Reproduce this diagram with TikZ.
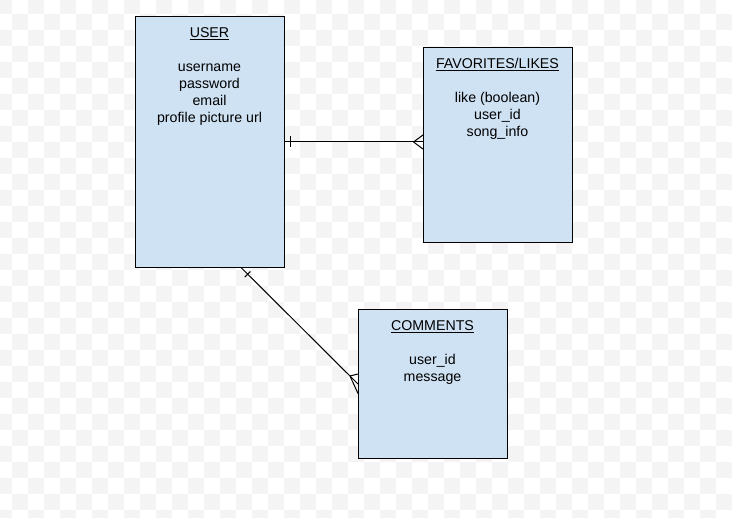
\documentclass[tikz,border=0pt]{standalone}
\usepackage{fontspec}
\setmainfont{Liberation Sans}
\definecolor{boxfill}{HTML}{CFE2F3}
\definecolor{chk}{HTML}{F4F4F4}
\tikzset{
  entity/.style={draw=black, line width=1pt, fill=boxfill, rectangle, inner sep=0pt, minimum width=149pt, anchor=north west},
  txt/.style={inner sep=0pt, anchor=base, font=\fontsize{14.2}{17}\selectfont},
  conn/.style={line width=1pt, draw=black},
  uline/.style={line width=0.9pt, draw=black},
}
\begin{document}
\begin{tikzpicture}[x=1pt,y=-1pt]
\useasboundingbox (0,0) rectangle (732,518);
\begin{scope}
\clip (0,0) rectangle (732,518);
\fill[white] (0,0) rectangle (732,518);
\foreach \r in {0,...,32}{
  \pgfmathtruncatemacro\s{mod(\r,2)}
  \foreach \c in {0,2,...,46}{
    \fill[chk] ({16*(\c+\s)-4},{16*\r-2}) rectangle ++(16,16);
  }
}
\end{scope}

% entities
\node[entity, minimum height=251pt] (user) at (135,16) {};
\node[entity, minimum height=195pt] (fav) at (423,47) {};
\node[entity, minimum height=149pt] (com) at (358,309) {};

% USER texts
\node[txt] (ut) at (209.5,37.5) {USER};
\draw[uline] ([yshift=-1.7pt]ut.base west) -- ([yshift=-1.7pt]ut.base east);
\node[txt] (u1) at (209.5,71.4) {username};
\node[txt] (u2) at (209.5,88.4) {password};
\node[txt] (u3) at (209.5,105.4) {email};
\node[txt] (u4) at (209.5,122.4) {profile picture url};

% FAVORITES texts
\node[txt] (ft) at (497.5,68.5) {FAVORITES/LIKES};
\draw[uline] ([yshift=-1.7pt]ft.base west) -- ([yshift=-1.7pt]ft.base east);
\node[txt] (f1) at (497.5,102.4) {like (boolean)};
\node[txt] (f2) at (497.5,119.4) {user\_id};
\node[txt] (f3) at (497.5,136.4) {song\_info};

% COMMENTS texts
\node[txt] (ct) at (432.5,330.5) {COMMENTS};
\draw[uline] ([yshift=-1.7pt]ct.base west) -- ([yshift=-1.7pt]ct.base east);
\node[txt] (c1) at (432.5,364.4) {user\_id};
\node[txt] (c2) at (432.5,381.4) {message};

% USER -- FAVORITES
\coordinate (fe) at (user.east -| fav.west);
\draw[conn] (user.east) -- (fe);
\draw[conn] ([shift={(5pt,5.5pt)}]user.east) -- ([shift={(5pt,-5.5pt)}]user.east);
\draw[conn] ([xshift=-9.5pt]fe) -- ([yshift=7pt]fe);
\draw[conn] ([xshift=-9.5pt]fe) -- ([yshift=-7pt]fe);

% USER -- COMMENTS
\coordinate (s) at ([xshift=31.5pt]user.south);
\draw[conn] (s) -- (com.west);
\draw[conn] ([shift={(3.2pt,-9.1pt)}]s) -- ([shift={(8.8pt,-3.5pt)}]s);
\coordinate (cj) at ([shift={(-8pt,8pt)}]com.west);
\draw[conn] (cj) -- ([yshift=10pt]com.west);
\draw[conn] (cj) -- ([yshift=-9.5pt]com.west);
\end{tikzpicture}
\end{document}
